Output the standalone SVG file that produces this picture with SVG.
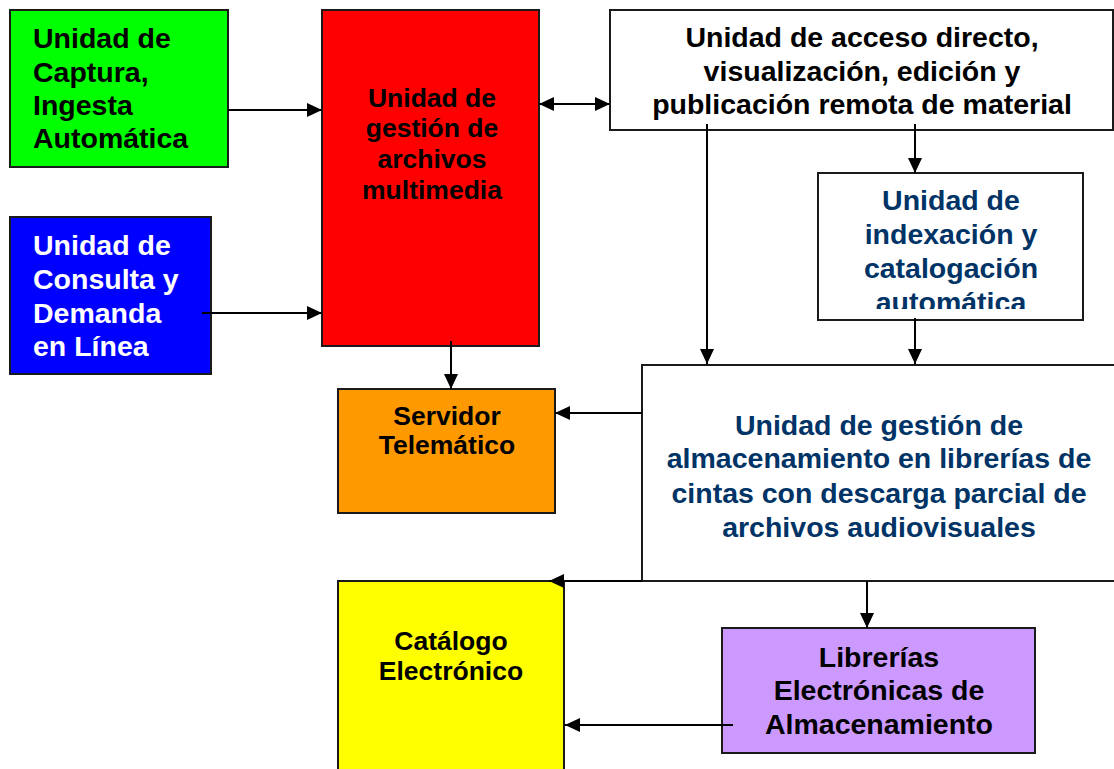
<svg xmlns="http://www.w3.org/2000/svg" width="1114" height="769" viewBox="0 0 1114 769">
<style>
  .box{stroke:#1a1a1a;stroke-width:2}
  text{font-family:"Liberation Sans",Arial,sans-serif;font-weight:bold}
  .l28{font-size:28.5px}
  .c26{font-size:26.5px;text-anchor:middle}
  .c28{font-size:28.5px;text-anchor:middle}
  .navy{fill:#003366}
  .conn line{stroke:#000;stroke-width:2;marker-end:url(#ah)}
</style>
<defs>
  <marker id="ah" markerUnits="userSpaceOnUse" markerWidth="16" markerHeight="16" refX="15" refY="8" orient="auto-start-reverse">
    <path d="M0,1 L15,8 L0,15 z" fill="#000"/>
  </marker>
  <clipPath id="idxclip"><rect x="818" y="173" width="266" height="136"/></clipPath>
</defs>
<rect width="1114" height="769" fill="#fff"/>

<g id="captura">
  <rect class="box" x="10" y="10" width="218" height="157" fill="#00ff00"/>
  <text class="l28" x="33" y="48">Unidad de</text>
  <text class="l28" x="33" y="82">Captura,</text>
  <text class="l28" x="33" y="115">Ingesta</text>
  <text class="l28" x="33" y="148">Automática</text>
</g>

<g id="consulta">
  <rect class="box" x="10" y="217" width="201" height="157" fill="#0000ff"/>
  <text class="l28" x="33" y="255" fill="#fff">Unidad de</text>
  <text class="l28" x="33" y="289" fill="#fff">Consulta y</text>
  <text class="l28" x="33" y="323" fill="#fff">Demanda</text>
  <text class="l28" x="33" y="356" fill="#fff">en Línea</text>
</g>

<g id="gestion-archivos">
  <rect class="box" x="322" y="10" width="217" height="336" fill="#ff0000"/>
  <text class="c26" x="432" y="107">Unidad de</text>
  <text class="c26" x="432" y="137">gestión de</text>
  <text class="c26" x="432" y="168">archivos</text>
  <text class="c26" x="432" y="199">multimedia</text>
</g>

<g id="acceso">
  <rect class="box" x="610" y="10" width="503" height="120" fill="#fff"/>
  <text class="c28" x="862" y="47">Unidad de acceso directo,</text>
  <text class="c28" x="862" y="81">visualización, edición y</text>
  <text class="c28" x="862" y="114">publicación remota de material</text>
</g>

<g id="indexacion">
  <rect class="box" x="818" y="173" width="265" height="147" fill="#fff"/>
  <g clip-path="url(#idxclip)">
    <text class="c28 navy" x="951" y="210">Unidad de</text>
    <text class="c28 navy" x="951" y="244">indexación y</text>
    <text class="c28 navy" x="951" y="278">catalogación</text>
    <text class="c28 navy" x="951" y="312">automática</text>
  </g>
</g>

<g id="servidor">
  <rect class="box" x="338" y="389" width="217" height="124" fill="#ff9900"/>
  <text class="c26" x="447" y="425">Servidor</text>
  <text class="c26" x="447" y="454">Telemático</text>
</g>

<g id="almacenamiento">
  <rect class="box" x="642" y="365" width="480" height="216" fill="#fff"/>
  <text class="c28 navy" x="879" y="435">Unidad de gestión de</text>
  <text class="c28 navy" x="879" y="468">almacenamiento en librerías de</text>
  <text class="c28 navy" x="879" y="503">cintas con descarga parcial de</text>
  <text class="c28 navy" x="879" y="537">archivos audiovisuales</text>
</g>

<g id="catalogo">
  <rect class="box" x="338" y="581" width="226" height="200" fill="#ffff00"/>
  <text class="c26" x="451" y="650">Catálogo</text>
  <text class="c26" x="451" y="680">Electrónico</text>
</g>

<g id="librerias">
  <rect class="box" x="722" y="628" width="313" height="125" fill="#cc99ff"/>
  <text class="c28" x="879" y="667">Librerías</text>
  <text class="c28" x="879" y="700">Electrónicas de</text>
  <text class="c28" x="879" y="734">Almacenamiento</text>
</g>

<g id="connectors" class="conn">
  <line x1="228" y1="110" x2="322" y2="110"/>
  <line x1="202" y1="313" x2="322" y2="313"/>
  <line x1="539" y1="104" x2="610" y2="104" style="marker-start:url(#ah)"/>
  <line x1="451" y1="341" x2="451" y2="389"/>
  <line x1="707" y1="124" x2="707" y2="364"/>
  <line x1="915" y1="124" x2="915" y2="173"/>
  <line x1="915" y1="318" x2="915" y2="364"/>
  <line x1="642" y1="413" x2="555" y2="413"/>
  <line x1="642" y1="581" x2="549" y2="581"/>
  <line x1="867" y1="581" x2="867" y2="628"/>
  <line x1="733" y1="725" x2="565" y2="725"/>
</g>
</svg>
